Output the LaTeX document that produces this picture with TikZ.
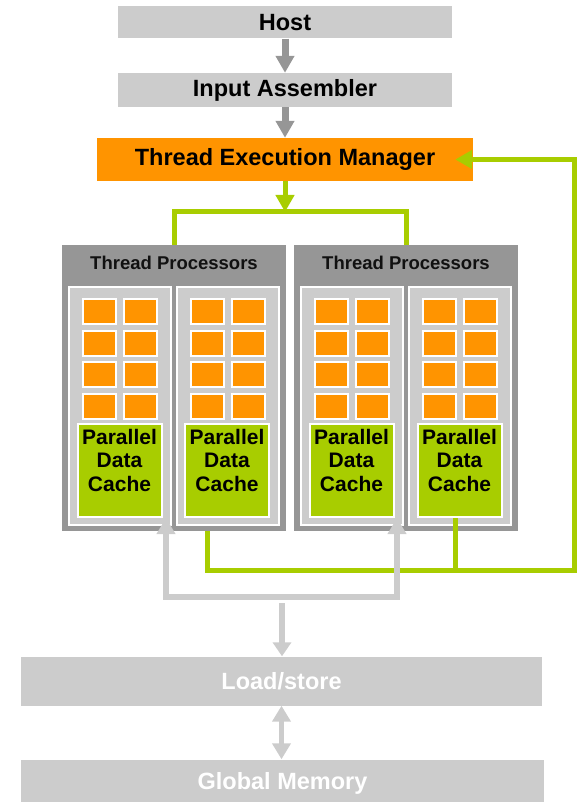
\documentclass[tikz,border=0pt]{standalone}
\usepackage{fontspec}
\setmainfont{Liberation Sans}
\usetikzlibrary{arrows.meta,positioning}
\definecolor{nvorange}{HTML}{FF9400}
\definecolor{nvgreen}{HTML}{A8CD00}
\definecolor{lightgr}{HTML}{CCCCCC}
\definecolor{midgr}{HTML}{969696}
\definecolor{textblk}{HTML}{111111}
\tikzset{
  stagebox/.style={fill=lightgr,inner sep=0pt,text=black,
                   font=\fontsize{23.5}{27}\selectfont\bfseries},
  membox/.style={fill=lightgr,inner sep=0pt,text=white,
                 font=\fontsize{23.5}{27}\selectfont\bfseries},
  tembox/.style={fill=nvorange,inner sep=0pt,text=black,
                 font=\fontsize{23.5}{27}\selectfont\bfseries},
  tpblock/.style={fill=midgr,minimum width=224pt,minimum height=286pt,
                  inner sep=0pt},
  tptitle/.style={font=\fontsize{18.5}{22}\selectfont\bfseries,
                  text=textblk,inner sep=0pt},
  panel/.style={draw=white,fill=lightgr,line width=2pt,
                minimum width=102pt,minimum height=238pt,inner sep=0pt},
  alucell/.style={draw=white,fill=nvorange,line width=2pt,
                  minimum width=33pt,minimum height=25pt,inner sep=0pt},
  cachebox/.style={draw=white,fill=nvgreen,line width=2pt,
                   minimum width=84pt,minimum height=93pt,inner sep=0pt},
  cachetext/.style={font=\fontsize{21}{23.5}\selectfont\bfseries,
                    align=center,inner sep=0pt,anchor=north,text=black},
  grayarr/.style={-{Triangle[length=17pt,width=18pt]},line width=7pt,
                  draw=midgr},
  lsarr/.style={-{Triangle[length=14pt,width=18pt]},line width=5.5pt,
                draw=lightgr},
  lsboth/.style={{Triangle[length=16pt,width=18pt]}-{Triangle[length=16pt,width=18pt]},
                 line width=5.5pt,draw=lightgr},
  greenarr/.style={-{Triangle[length=17pt,width=18pt]},line width=5pt,
                   draw=nvgreen},
  greenline/.style={line width=5pt,draw=nvgreen}
}

\begin{document}
\begin{tikzpicture}[x=1pt,y=-1pt]
    \path[use as bounding box] (0,0) rectangle (581,802);
    % front end
    \node[stagebox,minimum width=334pt,minimum height=32pt] (host) at (285,22.5)
      {Host};
    \node[stagebox,minimum width=334pt,minimum height=34pt] (inasm) at (285,90)
      {Input Assembler};
    \node[tembox,minimum width=376pt,minimum height=43pt] (tem) at (285,159.5)
      {Thread Execution Manager};

    % thread processor clusters
    \node[tpblock] (tpA) at (174,388) {};
    \node[tpblock] (tpB) at (406,388) {};
    \node[tptitle] (tpAtitle) at (174,263) {Thread Processors};
    \node[tptitle] (tpBtitle) at (406,263) {Thread Processors};

    \foreach \p/\px in {A1/120,A2/227.5,B1/352,B2/460} {
      \node[panel] (p\p) at (\px,406) {};
      \foreach \r/\ry in {1/311.5,2/343,3/374.5,4/406} {
        \node[alucell] (alu\p\r-1) at (\px-20.5,\ry) {};
        \node[alucell] (alu\p\r-2) at (\px+20.5,\ry) {};
      }
      \node[cachebox] (c\p) at (\px-0.5,470.5) {};
      \node[cachetext] (ct\p) at ([yshift=-6pt]c\p.north)
        {Parallel\\Data\\Cache};
    }

    % memory side
    \node[membox,minimum width=521pt,minimum height=49pt] (ls) at (281.5,681)
      {Load/store};
    \node[membox,minimum width=523pt,minimum height=48pt] (gmem) at (282.5,783.5)
      {Global Memory};

    % connectors
    \draw[grayarr] (host) -- (inasm);
    \draw[grayarr] (inasm) -- (tem);

    \coordinate (split) at (285,212);
    \draw[greenarr] (tem) -- (split);
    \draw[greenline] (tpA.north) |- (split) -| (tpB.north);

    \coordinate (fbA) at (207,531);
    \coordinate (fbB) at ([xshift=-4pt]cB2.south);
    \coordinate (fbC) at (574,570);
    \draw[greenarr] (fbA) |- (fbC) |- ([xshift=-18pt]tem.east);
    \draw[greenline] (fbB) -- (fbB |- fbC);

    \coordinate (inA) at (166,518);
    \coordinate (inB) at (397,518);
    \coordinate (busL) at (166,597);
    \coordinate (busR) at (397,597);
    \draw[lsboth] (inA) -- (busL) -- (busR) -- (inB);
    \coordinate (fork) at (282,603);
    \draw[lsarr] (fork) -- (fork |- ls.north);
    \draw[lsboth] (ls.south) -- (ls.south |- gmem.north);
  \end{tikzpicture}
\end{document}
